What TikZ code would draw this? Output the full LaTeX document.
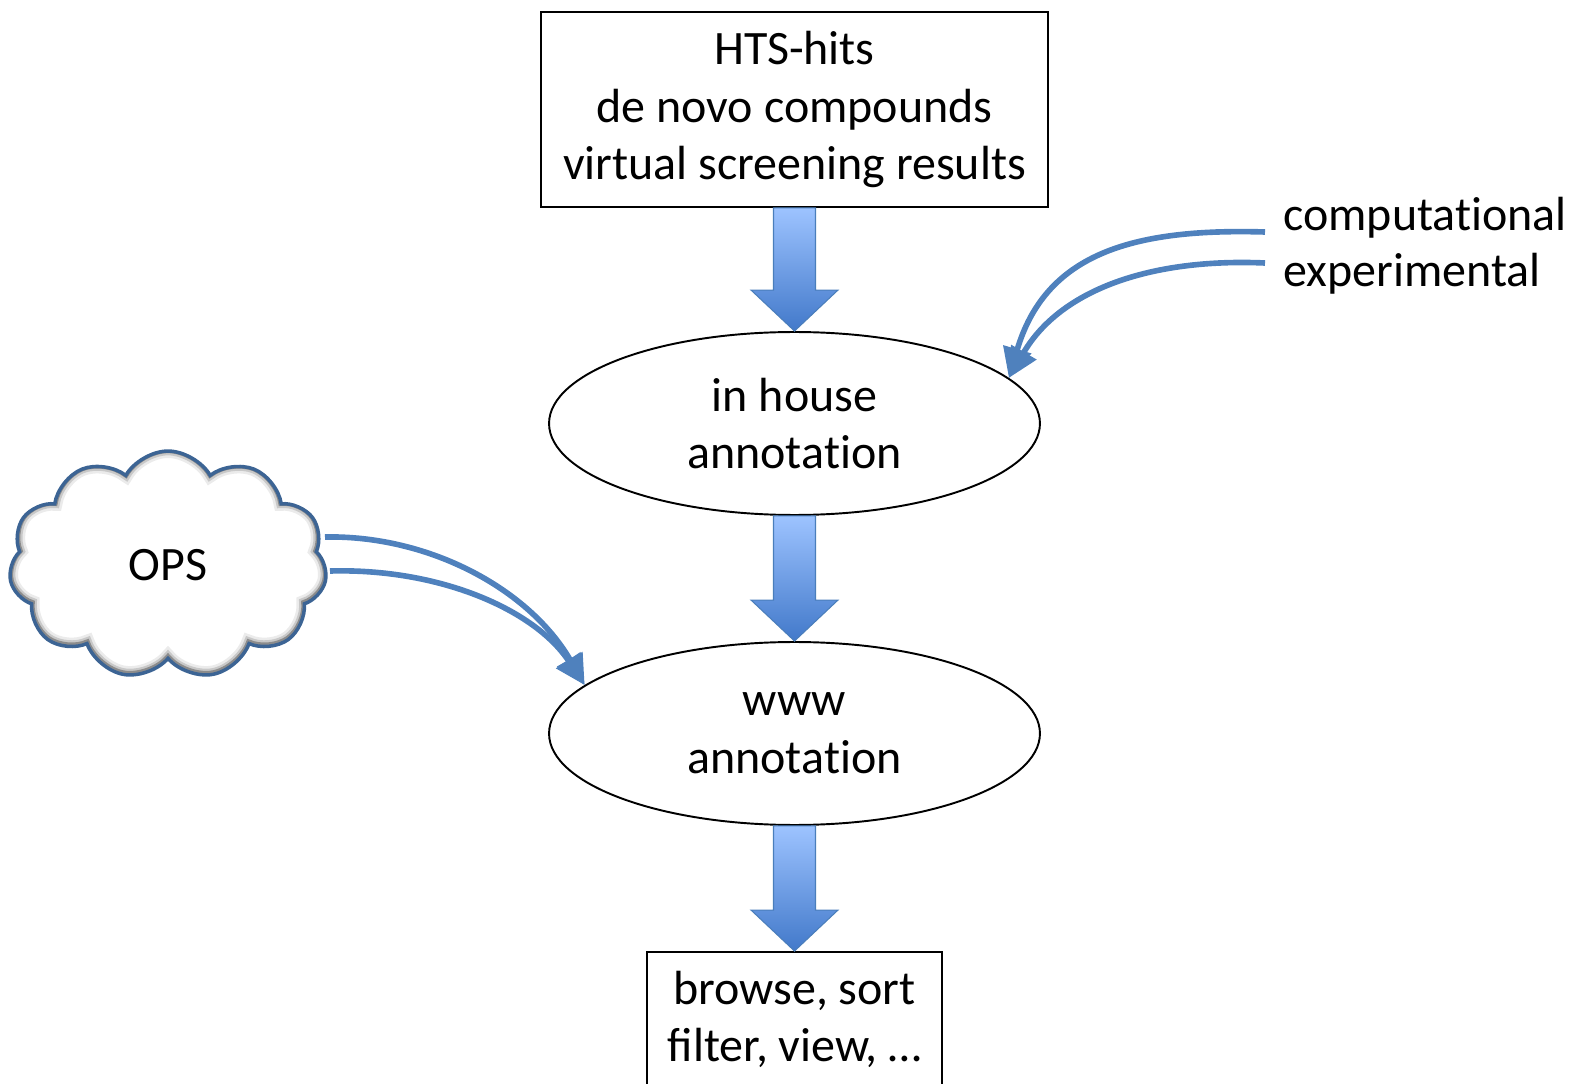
\documentclass[tikz,border=0pt]{standalone}
\usepackage{fontspec}
\setmainfont{Carlito}
\usepackage{tikz}
\usetikzlibrary{shapes.geometric, shapes.symbols, arrows.meta, calc}

\newcommand{\tisep}{t\kern0pt i}

\definecolor{curveblue}{HTML}{4F81BD}
\definecolor{shaftlight}{HTML}{9DC3FF}
\definecolor{shaftdark}{HTML}{4279CA}
\definecolor{shaftline}{HTML}{4A7EBB}
\definecolor{cloudline}{HTML}{3C6494}

\tikzset{
	txt/.style={font=\fontsize{27.3}{32.8}\selectfont, align=center, inner sep=0pt},
	boxnode/.style={txt, draw, line width=1.1pt},
	ellnode/.style={txt, ellipse, draw, line width=1.1pt, minimum width=9.82cm, minimum height=3.66cm},
	cloudform/.style={cloud, cloud puffs=11, cloud puff arc=120, aspect=1.4, minimum width=6.36cm, minimum height=4.56cm, inner sep=0pt},
	cloudnode/.style={txt, cloudform, draw=cloudline, line width=2pt,
		path picture={\foreach \w/\o in {9/0.08, 6/0.15, 3.5/0.3}
			\node[cloudform, draw=black, draw opacity=\o, line width=\w pt] at (path picture bounding box.center) {};}},
	blockarrow/.style={top color=shaftlight, bottom color=shaftdark, draw=shaftline, line width=0.6pt},
	curvearrow/.style={curveblue, line width=3.2pt, -{Triangle[length=17pt,width=16pt]}},
}

\begin{document}
\begin{tikzpicture}[x=0.02cm, y=-0.02cm]
	\useasboundingbox (0,0) rectangle (1570,1084);

	\node[boxnode, minimum width=10.14cm, minimum height=3.9cm] (hits) at (794.5,109.5) {HTS-hits\\de novo compounds\\virtual screening results};
	\node[ellnode] (inhouse) at (794.5,423.5) {in house\\annota\tisep on};
	\node[ellnode] (www) at (794.5,733.5) {www\\annota\tisep on};
	\node[boxnode, minimum width=5.9cm, minimum height=2.7cm] (browse) at (794.5,1019.5) {browse, sort\\filter, view, \dots};

	\node[cloudnode] (ops) at (168,565) {OPS};
	\node[txt, anchor=west] (comp) at (1283,218) {computa\tisep onal};
	\node[txt, anchor=west] (exper) at (1283,274) {experimental};

	\foreach \a/\b in {hits/inhouse, inhouse/www, www/browse}{
		\coordinate (s) at (\a.south);
		\coordinate (t) at (\b.north);
		\path[blockarrow] ($(s)+(-21,0)$) -- ($(s)+(21,0)$) -- ($(t)+(21,-41)$) -- ($(t)+(43.5,-41)$)
			-- (t) -- ($(t)+(-43.5,-41)$) -- ($(t)+(-21,-41)$) -- cycle;
	}

	\draw[curvearrow] ($(comp.west)+(-18,14)$) .. controls (1130,228) and (1045,255) .. (inhouse.12);
	\draw[curvearrow] ($(exper.west)+(-18,-11)$) .. controls (1150,258) and (1060,290) .. (inhouse.12);

	\draw[curvearrow] ($(ops.center)+(157,-28)$) .. controls (430,535) and (530,590) .. (www.167);
	\draw[curvearrow] ($(ops.center)+(162,6)$) .. controls (440,568) and (535,610) .. (www.167);
\end{tikzpicture}
\end{document}
